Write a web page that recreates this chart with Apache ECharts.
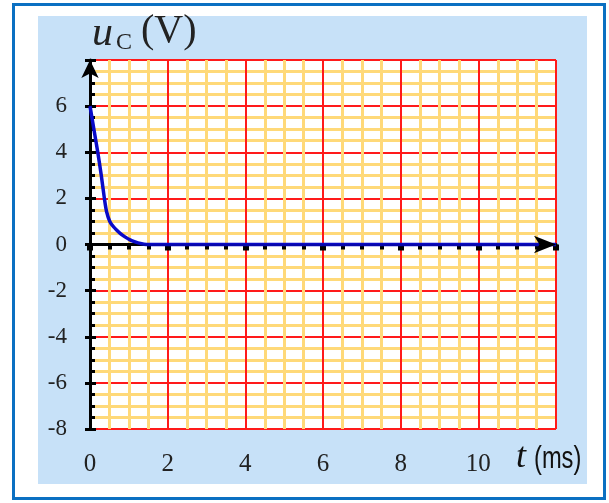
<!DOCTYPE html>
<html><head><meta charset="utf-8">
<script src="https://cdn.jsdelivr.net/npm/echarts@6/dist/echarts.min.js"></script>
<style>
html,body{margin:0;padding:0;background:#fff;width:609px;height:503px;overflow:hidden;}
#frame{position:absolute;left:12px;top:3px;width:588px;height:491px;border:3px solid #0b70c2;}
#panel{position:absolute;left:38px;top:16px;width:549px;height:468px;background:#c7e1f8;}
#chart{position:absolute;left:0;top:0;width:609px;height:503px;}
</style></head>
<body>
<div id="frame"></div><div id="panel"></div>
<div id="chart"></div>
<script>
const tValues = [0, 0.1, 0.2, 0.29, 0.37, 0.43, 0.51, 0.6, 0.69, 0.8, 0.9, 1.03, 1.16, 1.3, 1.45, 12];
const uValues = [6, 5, 4, 3, 2, 1.4, 1.0, 0.78, 0.62, 0.45, 0.33, 0.2, 0.11, 0.04, 0, 0];
const xTickLabels = ['0', '2', '4', '6', '8', '10'];
const yTickLabels = ['-8', '-6', '-4', '-2', '0', '2', '4', '6'];

const chart = echarts.init(document.getElementById('chart'), null, {renderer: 'canvas'});
const serif = '"Liberation Serif", "Times New Roman", serif';
const data = tValues.map((t, i) => [t, uValues[i]]);
const RED = '#ff1a1a', YEL = '#ffd978';

chart.setOption({
  animation: false,
  backgroundColor: 'transparent',
  grid: {left: 90, top: 60, width: 466, height: 369, show: true, backgroundColor: '#fff', borderWidth: 0},
  graphic: [
    {type: 'text', left: 92, top: 13, style: {text: 'u', font: 'italic 42px ' + serif, fill: '#222'}},
    {type: 'text', left: 116, top: 31, style: {text: 'C', font: '24px ' + serif, fill: '#222'}},
    {type: 'text', left: 141, top: 11, style: {text: '(V)', font: '40px ' + serif, fill: '#222'}},
    {type: 'text', left: 516, top: 440, style: {text: 't', font: 'italic 36px ' + serif, fill: '#111'}},
    {type: 'text', left: 534, top: 443, scaleX: 0.74, style: {text: '(ms)', font: '32px "Liberation Sans", sans-serif', fill: '#111'}}
  ],
  xAxis: [
    {
      type: 'value', min: 0, max: 12, interval: 2, position: 'bottom',
      axisLine: {show: false, onZero: false},
      axisTick: {show: false},
      axisLabel: {
        margin: 23, color: '#222', fontFamily: serif, fontSize: 25,
        formatter: v => xTickLabels.includes(String(v)) ? String(v) : ''
      },
      splitLine: {show: true, lineStyle: {color: RED, width: 2}},
      minorTick: {show: false, splitNumber: 4},
      minorSplitLine: {show: true, lineStyle: {color: YEL, width: 3}}
    },
    {
      type: 'value', min: 0, max: 12, interval: 2, position: 'bottom',
      axisLine: {show: true, onZero: true, lineStyle: {color: '#000', width: 3}},
      axisTick: {show: true, inside: false, length: 6, lineStyle: {color: '#000', width: 6}},
      minorTick: {show: true, splitNumber: 4, length: 5, lineStyle: {color: '#000', width: 4}},
      axisLabel: {show: false},
      splitLine: {show: false}
    },
    {
      type: 'value', min: 0, max: 12, position: 'bottom', z: 5,
      axisLine: {show: true, onZero: true, symbol: ['none', 'arrow'], symbolSize: [13, 22], lineStyle: {color: '#000', width: 0.3}},
      axisTick: {show: false}, axisLabel: {show: false}, splitLine: {show: false}
    }
  ],
  yAxis: [
    {
      type: 'value', min: -8, max: 8, interval: 2, position: 'left',
      axisLine: {show: true, onZero: false, symbol: ['none', 'arrow'], symbolSize: [13, 18], lineStyle: {color: '#000', width: 3}},
      axisTick: {show: true, inside: false, length: 5, lineStyle: {color: '#000', width: 3}},
      axisLabel: {
        margin: 23, color: '#222', fontFamily: serif, fontSize: 23,
        formatter: v => yTickLabels.includes(String(v)) ? String(v) : ''
      },
      splitLine: {show: true, lineStyle: {color: RED, width: 2}},
      minorTick: {show: false, splitNumber: 4},
      minorSplitLine: {show: true, lineStyle: {color: YEL, width: 3}}
    },
    {
      type: 'value', min: -8, max: 8, interval: 2, position: 'left', offset: 0,
      axisLine: {show: false, onZero: false},
      axisTick: {show: true, inside: true, length: 6, lineStyle: {color: '#000', width: 3}},
      minorTick: {show: true, splitNumber: 4, length: 5, lineStyle: {color: '#000', width: 3}},
      axisLabel: {show: false},
      splitLine: {show: false}
    }
  ],
  series: [{
    type: 'line', xAxisIndex: 0, yAxisIndex: 0, data: data,
    smooth: 0.25, showSymbol: false, symbol: 'none',
    lineStyle: {color: '#0a0ac8', width: 3.5}, z: 3
  }]
});
</script>
</body></html>
